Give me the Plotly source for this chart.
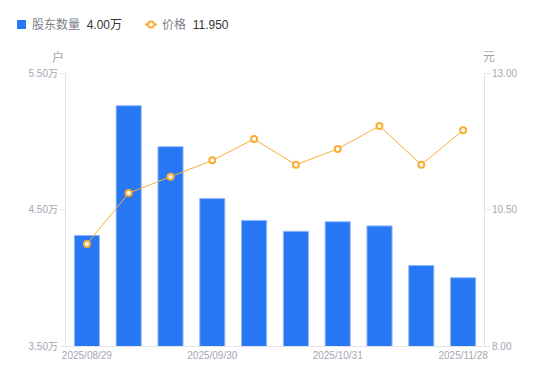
import plotly.graph_objects as go

dates = ["2025/08/29", "2025/09/10", "2025/09/19", "2025/09/30", "2025/10/10",
         "2025/10/20", "2025/10/31", "2025/11/10", "2025/11/20", "2025/11/28"]
holders = [4.31, 5.26, 4.96, 4.58, 4.42, 4.34, 4.41, 4.38, 4.09, 4.00]  # 万户
price = [9.87, 10.80, 11.10, 11.40, 11.79, 11.32, 11.61, 12.03, 11.32, 11.95]
x_tick_labels = ["2025/08/29", "2025/09/30", "2025/10/31", "2025/11/28"]
left_ticks = [3.5, 4.5, 5.5]
right_ticks = [8.0, 10.5, 13.0]

FONT = "Liberation Sans, Arial, Noto Sans CJK SC, sans-serif"
BLUE = "#2878f5"
ORANGE = "#f9ad33"
GRAY = "#a3a6b0"
AXIS = "#e3e4e8"

fig = go.Figure()
fig.add_trace(go.Bar(
    x=dates, y=holders, name="股东数量", marker=dict(color=BLUE, line=dict(color="#8fb6f8", width=1)),
    yaxis="y", hoverinfo="skip",
))
fig.add_trace(go.Scatter(
    x=dates, y=price, name="价格", yaxis="y2", mode="lines+markers",
    line=dict(color=ORANGE, width=1),
    marker=dict(symbol="circle", size=6, color="white", line=dict(color=ORANGE, width=2)),
    hoverinfo="skip", cliponaxis=False,
))

fig.update_layout(
    width=550, height=381,
    margin=dict(l=66, r=66, t=73, b=35, autoexpand=False),
    paper_bgcolor="white", plot_bgcolor="white",
    showlegend=False,
    bargap=0.4,
    font=dict(family=FONT, size=10, color=GRAY),
    xaxis=dict(
        type="category", range=[-0.5, len(dates) - 0.5],
        tickmode="array", tickvals=x_tick_labels, ticktext=x_tick_labels,
        showgrid=False, showline=True, linecolor=AXIS, linewidth=1, ticks="",
        tickfont=dict(size=10, color=GRAY), zeroline=False, automargin=False,
    ),
    yaxis=dict(
        range=[left_ticks[0], left_ticks[-1]], tickvals=left_ticks,
        ticktext=[f"{v:.2f}万" for v in left_ticks],
        showgrid=False, showline=True, linecolor=AXIS, linewidth=1,
        ticks="outside", ticklen=5, tickcolor=AXIS, zeroline=False,
        tickfont=dict(size=10, color=GRAY), automargin=False,
    ),
    yaxis2=dict(
        range=[right_ticks[0], right_ticks[-1]], tickvals=right_ticks,
        ticktext=[f"{v:.2f}" for v in right_ticks],
        overlaying="y", side="right",
        showgrid=False, showline=True, linecolor=AXIS, linewidth=1,
        ticks="outside", ticklen=5, tickcolor=AXIS, zeroline=False,
        tickfont=dict(size=10, color=GRAY), automargin=False,
    ),
)

# axis unit labels
fig.add_annotation(text="户", xref="paper", yref="paper", x=(58 - 66) / 418, y=1 + (73 - 57) / 273,
                   showarrow=False, font=dict(size=12, color=GRAY), xanchor="center", yanchor="middle")
fig.add_annotation(text="元", xref="paper", yref="paper", x=(489 - 66) / 418, y=1 + (73 - 57) / 273,
                   showarrow=False, font=dict(size=12, color=GRAY), xanchor="center", yanchor="middle")

# custom legend
ly = 1 + (73 - 24.5) / 273
fig.add_shape(type="rect", xref="paper", yref="paper",
              x0=(17 - 66) / 418, x1=(26 - 66) / 418, y0=ly - 4.5 / 273, y1=ly + 4.5 / 273,
              fillcolor=BLUE, line=dict(width=0))
fig.add_annotation(xref="paper", yref="paper", x=(30 - 66) / 418, y=ly, xanchor="left", yanchor="middle",
                   showarrow=False,
                   text=f"<span style='color:#7d808a'>股东数量</span>  <span style='color:#333333'>{holders[-1]:.2f}万</span>",
                   font=dict(size=12))
fig.add_shape(type="line", xref="paper", yref="paper",
              x0=(145 - 66) / 418, x1=(157 - 66) / 418, y0=ly, y1=ly,
              line=dict(color=ORANGE, width=2))
fig.add_shape(type="circle", xref="paper", yref="paper",
              x0=(148 - 66) / 418, x1=(154 - 66) / 418, y0=ly - 3 / 273, y1=ly + 3 / 273,
              fillcolor="white", line=dict(color=ORANGE, width=2))
fig.add_annotation(xref="paper", yref="paper", x=(160 - 66) / 418, y=ly, xanchor="left", yanchor="middle",
                   showarrow=False,
                   text=f"<span style='color:#7d808a'>价格</span>  <span style='color:#333333'>{price[-1]:.3f}</span>",
                   font=dict(size=12))

fig.write_html("out.html", config={"displayModeBar": False},
               post_script="document.body.style.margin='0';document.body.style.overflow='hidden';")
